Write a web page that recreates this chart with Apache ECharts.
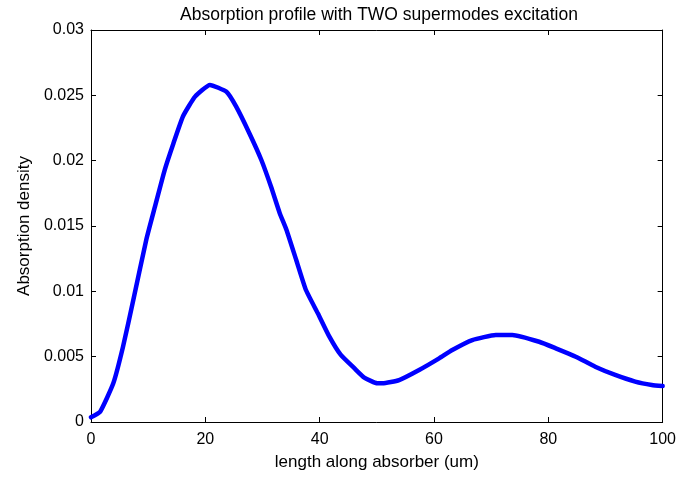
<!DOCTYPE html>
<html><head><meta charset="utf-8">
<script src="https://cdn.jsdelivr.net/npm/echarts@6/dist/echarts.min.js"></script>
<style>html,body{margin:0;padding:0;background:#fff}#c{width:679px;height:478px}</style>
</head><body><div id="c"></div>
<script>
const titleText = 'Absorption profile with TWO supermodes excitation';
const xName = 'length along absorber (um)';
const yName = 'Absorption density';
const xPos = [0, 1.6, 3.9, 5.6, 7.4, 9.7, 11.2, 12.9, 14.4, 16.1, 18.2, 20.8, 23.7, 25.4, 27.7, 29.8, 31.5, 33.0, 34.2, 35.9, 37.6, 39.7, 41.7, 43.7, 46.1, 47.8, 50.1, 51.0, 53.9, 57.4, 60.9, 63.2, 66.7, 70.8, 73.7, 78.4, 81.3, 84.8, 88.2, 91.7, 95.2, 98.1, 100];
const density = [0.00036, 0.00079, 0.00296, 0.00576, 0.00933, 0.0140, 0.0165, 0.0193, 0.0213, 0.0234, 0.0249, 0.0258, 0.02527, 0.02413, 0.0221, 0.02005, 0.0180, 0.0160, 0.0147, 0.0124, 0.0101, 0.0083, 0.00653, 0.00513, 0.0041, 0.0034, 0.00296, 0.00296, 0.00321, 0.00398, 0.00487, 0.00551, 0.00627, 0.00666, 0.00666, 0.00614, 0.00564, 0.005, 0.00423, 0.0036, 0.00309, 0.00283, 0.00275];

const font = 'Liberation Sans, Arial, sans-serif';
function axisCommon() {
  return {
    axisLine: {show: true, onZero: false, lineStyle: {color: '#000', width: 1}},
    axisTick: {show: true, inside: true, length: 5, lineStyle: {color: '#000'}},
    splitLine: {show: false}
  };
}
const chart = echarts.init(document.getElementById('c'));
chart.setOption({
  animation: false,
  backgroundColor: '#fff',
  title: {text: titleText, left: 374, textAlign: 'center', top: 1,
    textStyle: {fontFamily: font, fontSize: 17.5, fontWeight: 'normal', color: '#000'}},
  grid: {left: 91, right: 15, top: 30, bottom: 56},
  xAxis: [
    Object.assign({type: 'value', min: 0, max: 100, interval: 20, position: 'bottom',
      name: xName, nameLocation: 'middle', nameGap: 32,
      nameTextStyle: {fontFamily: font, fontSize: 17, color: '#000'},
      axisLabel: {fontFamily: font, fontSize: 16, color: '#000', margin: 10}}, axisCommon()),
    Object.assign({type: 'value', min: 0, max: 100, interval: 20, position: 'top',
      axisLabel: {show: false}}, axisCommon())
  ],
  yAxis: [
    Object.assign({type: 'value', min: 0, max: 0.03, interval: 0.005, position: 'left',
      name: yName, nameLocation: 'middle', nameGap: 58,
      nameTextStyle: {fontFamily: font, fontSize: 17, color: '#000'},
      axisLabel: {fontFamily: font, fontSize: 16, color: '#000', margin: 7}}, axisCommon()),
    Object.assign({type: 'value', min: 0, max: 0.03, interval: 0.005, position: 'right',
      axisLabel: {show: false}}, axisCommon())
  ],
  series: [{
    type: 'line', data: xPos.map((x, i) => [x, density[i]]),
    showSymbol: false, smooth: 0.15,
    lineStyle: {color: '#0000ff', width: 4.5, join: 'round', cap: 'round'}
  }]
});
</script></body></html>
